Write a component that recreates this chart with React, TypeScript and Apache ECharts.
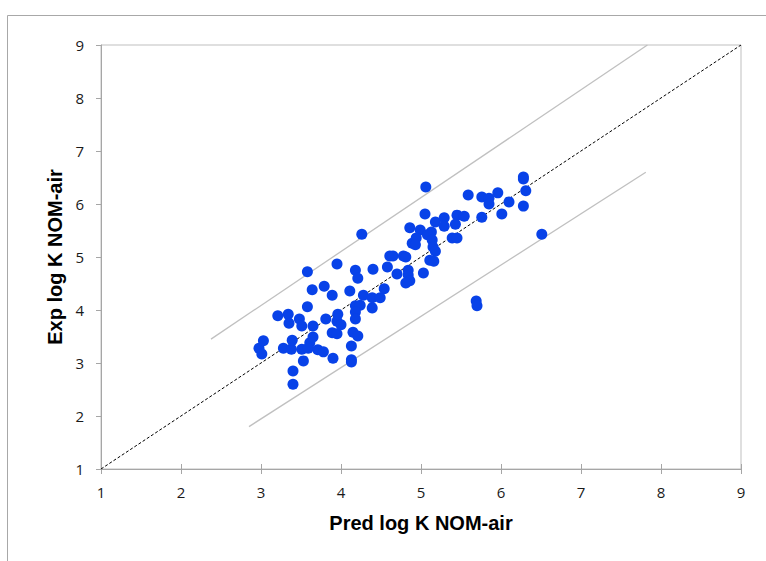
import React, { useEffect, useRef } from "react";
import * as echarts from "echarts";

const predLogK: number[] = [
  2.975, 3.01, 3.03, 3.21, 3.28, 3.34, 3.35, 3.38, 3.39, 3.4, 3.4, 3.48, 3.51, 3.51, 3.53,
  3.58, 3.58, 3.64, 3.65, 3.61, 3.59, 3.65, 3.71, 3.78, 3.79, 3.81, 3.89, 3.89, 3.9, 3.95,
  3.95, 3.96, 4.0, 3.95, 4.11, 4.13, 4.13, 4.13, 4.15, 4.18, 4.21, 4.18, 4.24, 4.18, 4.18,
  4.21, 4.26, 4.28, 4.39, 4.39, 4.49, 4.4, 4.54, 4.58, 4.61, 4.65, 4.78, 4.81, 4.7, 4.84,
  4.84, 4.86, 4.81, 5.03, 4.86, 4.99, 4.89, 4.94, 4.93, 5.06, 5.05, 5.18, 5.13, 5.08, 5.14,
  5.15, 5.18, 5.11, 5.16, 5.29, 5.29, 5.45, 5.54, 5.43, 5.39, 5.45, 5.59, 5.76, 5.85, 5.85,
  5.96, 6.1, 6.01, 5.76, 6.28, 6.28, 6.31, 6.28, 6.51, 5.69, 5.7,
];
const expLogK: number[] = [
  3.28, 3.17, 3.42, 3.89, 3.28, 3.92, 3.75, 3.26, 3.43, 2.85, 2.6, 3.83, 3.7, 3.26, 3.04,
  4.06, 4.72, 4.38, 3.7, 3.38, 3.28, 3.49, 3.25, 3.21, 4.45, 3.83, 4.28, 3.57, 3.09, 4.87,
  3.79, 3.92, 3.72, 3.55, 4.36, 3.32, 3.06, 3.02, 3.58, 4.75, 4.6, 4.08, 4.09, 3.96, 3.83,
  3.51, 5.43, 4.28, 4.04, 4.23, 4.23, 4.77, 4.4, 4.81, 5.02, 5.02, 5.02, 5.0, 4.68, 4.75,
  4.66, 4.55, 4.51, 4.7, 5.55, 5.51, 5.26, 5.36, 5.23, 6.32, 5.81, 5.66, 5.47, 5.42, 5.32,
  5.19, 5.11, 4.94, 4.92, 5.74, 5.58, 5.79, 5.77, 5.62, 5.36, 5.36, 6.17, 6.13, 6.11, 6.0,
  6.21, 6.04, 5.81, 5.75, 6.51, 6.47, 6.25, 5.96, 5.43, 4.17, 4.08,
];

const oneToOneLine: number[][] = [[1, 1], [9, 9]];
const upperBound: number[][] = [[2.375, 3.45], [7.83, 9]];
const lowerBound: number[][] = [[2.85, 1.8], [7.81, 6.6]];

const axisTicks: number[] = [1, 2, 3, 4, 5, 6, 7, 8, 9];

const xTitle = "Pred log K NOM-air";
const yTitle = "Exp log K NOM-air";

export default function App() {
  const ref = useRef<HTMLDivElement>(null);

  useEffect(() => {
    if (!ref.current) return;
    const chart = echarts.init(ref.current, null, { renderer: "svg" });
    const points = predLogK.map((x, i) => [x, expLogK[i]]);
    const labelFont = "'Liberation Sans Narrow', 'Open Sans', sans-serif";
    const titleFont = "'Liberation Sans', Arial, sans-serif";
    const axisColor = "#a6a6a6";
    const baseAxis = {
      type: "value" as const,
      min: axisTicks[0],
      max: axisTicks[axisTicks.length - 1],
      interval: 1,
      splitLine: { show: false },
      axisLine: { show: true, onZero: false, lineStyle: { color: axisColor, width: 1 } },
      axisTick: { show: true, length: 5, lineStyle: { color: axisColor } },
    };
    chart.setOption({
      animation: false,
      backgroundColor: "#ffffff",
      grid: {
        left: 101,
        top: 45,
        width: 640,
        height: 424,
        show: true,
        borderColor: "#bfbfbf",
        borderWidth: 1,
        backgroundColor: "transparent",
      },
      xAxis: [
        {
          ...baseAxis,
          position: "bottom",
          axisLabel: { color: "#1a1a1a", fontSize: 15, fontFamily: labelFont, margin: 15 },
          name: xTitle,
          nameLocation: "middle",
          nameGap: 44,
          nameTextStyle: {
            color: "#000",
            fontSize: 20,
            fontWeight: "bold",
            fontFamily: titleFont,
          },
        },
        {
          ...baseAxis,
          position: "bottom",
          axisLine: { show: false },
          axisTick: { show: true, inside: true, length: 5, lineStyle: { color: axisColor } },
          axisLabel: { show: false },
        },
      ],
      yAxis: {
        ...baseAxis,
        axisLabel: { color: "#1a1a1a", fontSize: 15, fontFamily: labelFont, margin: 17 },
        name: yTitle,
        nameLocation: "middle",
        nameGap: 34,
        nameTextStyle: {
          color: "#000",
          fontSize: 20,
          fontWeight: "bold",
          fontFamily: titleFont,
        },
      },
      graphic: [
        {
          type: "rect",
          silent: true,
          shape: { x: 7.5, y: 15.5, width: 900, height: 700 },
          style: { fill: "none", stroke: "#a8a8a8", lineWidth: 1 },
        },
      ],
      series: [
        {
          type: "line",
          data: upperBound,
          symbol: "none",
          lineStyle: { color: "#c0c0c0", width: 1.3 },
          z: 1,
        },
        {
          type: "line",
          data: lowerBound,
          symbol: "none",
          lineStyle: { color: "#c0c0c0", width: 1.3 },
          z: 1,
        },
        {
          type: "line",
          data: oneToOneLine,
          symbol: "none",
          lineStyle: { color: "#000", width: 1, type: [3, 2] },
          z: 2,
        },
        {
          type: "scatter",
          data: points,
          symbol: "circle",
          symbolSize: 11,
          itemStyle: { color: "#0842e8", opacity: 1 },
          z: 3,
        },
      ],
    });
    return () => chart.dispose();
  }, []);

  return (
    <div
      ref={ref}
      style={{ position: "absolute", left: 0, top: 0, width: 766, height: 561 }}
    />
  );
}
